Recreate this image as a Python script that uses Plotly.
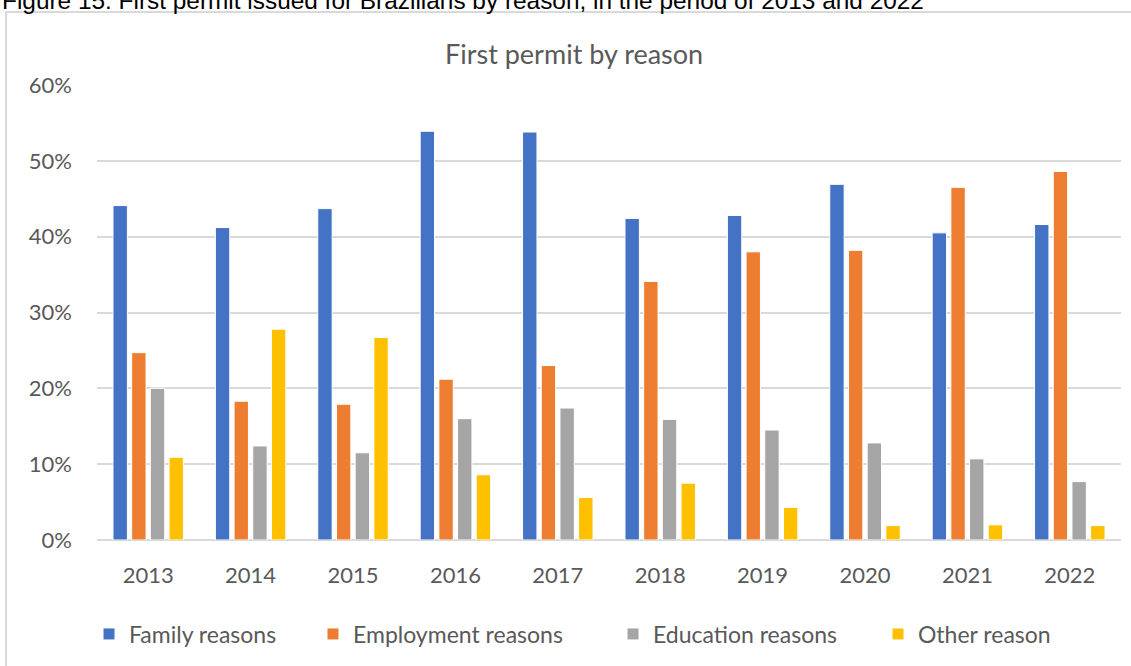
import plotly.graph_objects as go

years = ["2013", "2014", "2015", "2016", "2017", "2018", "2019", "2020", "2021", "2022"]
family = [0.441, 0.412, 0.437, 0.539, 0.538, 0.424, 0.428, 0.469, 0.405, 0.416]
employment = [0.247, 0.183, 0.179, 0.212, 0.230, 0.341, 0.380, 0.382, 0.465, 0.486]
education = [0.200, 0.124, 0.115, 0.160, 0.174, 0.159, 0.145, 0.128, 0.107, 0.077]
other = [0.109, 0.278, 0.267, 0.086, 0.056, 0.075, 0.043, 0.019, 0.020, 0.019]

series = [
    ("Family reasons", family, "#4472C4"),
    ("Employment reasons", employment, "#ED7D31"),
    ("Education reasons", education, "#A5A5A5"),
    ("Other reason", other, "#FFC000"),
]

W, H = 1131, 666
ML, MR, MT, MB = 97, 10, 85, 126
PW = W - ML - MR
PH = H - MT - MB

def px_x(p):
    return (p - ML) / PW

def px_y(p):
    return (H - MB - p) / PH

FONT = "Lato, 'Open Sans', sans-serif"
GREY = "#595959"

legend_ids = ["legend", "legend2", "legend3", "legend4"]
legend_marker_centers = [114, 338, 638, 903]

fig = go.Figure()
for (name, vals, col), lid in zip(series, legend_ids):
    fig.add_trace(go.Bar(
        x=years, y=vals, name=name, legend=lid, showlegend=True,
        marker=dict(color=col, line=dict(color="white", width=1)),
    ))

legend_layout = {}
for lid, cx in zip(legend_ids, legend_marker_centers):
    legend_layout[lid] = dict(orientation="h", x=px_x(cx - 25), xanchor="left",
                              y=px_y(634), yanchor="middle", visible=True,
                              font=dict(size=23, color=GREY, family=FONT),
                              bgcolor="rgba(0,0,0,0)")

fig.update_layout(
    width=W, height=H,
    margin=dict(l=ML, r=MR, t=MT, b=MB),
    paper_bgcolor="white", plot_bgcolor="white",
    showlegend=True,
    barmode="group", bargap=0.27, bargroupgap=0.23,
    font=dict(family=FONT, color=GREY, size=21),
    xaxis=dict(showgrid=False, showline=False, ticks="", ticklabelstandoff=20,
               tickfont=dict(size=22, color=GREY)),
    yaxis=dict(range=[0, 0.6], dtick=0.1, tickformat=".0%", showgrid=True,
               gridcolor="#D9D9D9", gridwidth=2, zeroline=True, zerolinecolor="#D9D9D9",
               zerolinewidth=2, showline=False, ticks="", ticklabelstandoff=24,
               tickfont=dict(size=22, color=GREY)),
    shapes=[dict(type="rect", xref="paper", yref="paper",
                 x0=px_x(6), x1=px_x(1140), y0=px_y(675), y1=px_y(12),
                 line=dict(color="#D9D9D9", width=2), fillcolor="rgba(0,0,0,0)", layer="below")],
    annotations=[
        dict(text="First permit by reason", xref="paper", yref="paper",
             x=px_x(574), y=px_y(53), xanchor="center", yanchor="middle", showarrow=False,
             font=dict(size=27, color=GREY, family=FONT)),
        dict(text="Figure 15: First permit issued for Brazilians by reason, in the period of 2013 and 2022",
             xref="paper", yref="paper", x=px_x(0), y=px_y(0), xanchor="left", yanchor="middle",
             showarrow=False, font=dict(size=24.4, color="black", family="'Liberation Sans', Arial")),
    ],
    **legend_layout,
)

fig.write_html("out.html")
